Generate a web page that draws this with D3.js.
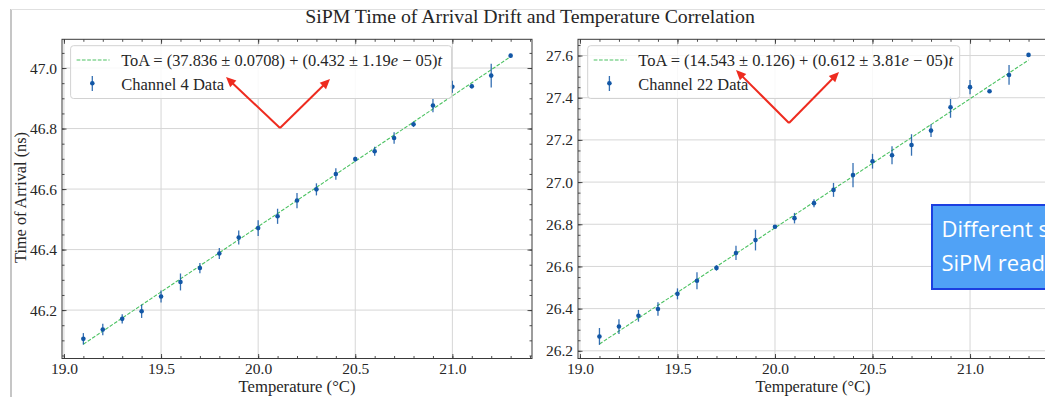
<!DOCTYPE html>
<html><head><meta charset="utf-8">
<script src="https://cdn.jsdelivr.net/npm/d3@7"></script>
<style>
body{margin:0;background:#fff;}
svg{display:block;}
text{font-family:"Liberation Serif","Times New Roman",serif;fill:#262626;}
</style>
</head><body>
<svg id="c" width="1045" height="397"></svg>
<script>
// ---------------- data ----------------
const title = "SiPM Time of Arrival Drift and Temperature Correlation";
const xAxisLabel = "Temperature (°C)";
const yAxisLabel = "Time of Arrival (ns)";
const temperatures = [19.1,19.2,19.3,19.4,19.5,19.6,19.7,19.8,19.9,20.0,20.1,20.2,20.3,20.4,20.5,20.6,20.7,20.8,20.9,21.0,21.1,21.2,21.3];
const ch4ToA  = [46.105,46.136,46.171,46.196,46.245,46.293,46.339,46.387,46.440,46.471,46.510,46.562,46.599,46.650,46.699,46.725,46.769,46.814,46.876,46.938,46.940,46.975,47.041];
const ch4Err  = [0.019,0.019,0.015,0.022,0.020,0.028,0.017,0.018,0.023,0.026,0.025,0.025,0.020,0.019,0.008,0.015,0.019,0.009,0.022,0.020,0.008,0.039,0.006];
const ch22ToA = [26.268,26.315,26.366,26.398,26.470,26.532,26.593,26.664,26.725,26.788,26.829,26.900,26.963,27.033,27.099,27.127,27.176,27.244,27.355,27.450,27.431,27.508,27.603];
const ch22Err = [0.040,0.035,0.028,0.032,0.026,0.040,0.013,0.034,0.049,0.008,0.025,0.019,0.033,0.057,0.035,0.043,0.051,0.030,0.050,0.034,0.006,0.047,0.005];
const seriesNames   = ["Channel 4 Data","Channel 22 Data"];
const fitIntercepts = [37.836, 14.543];
const fitInterceptErrs = ["0.0708","0.126"];
const fitSlopes     = [0.432, 0.612];
const fitSlopeErrMantissa = ["1.19","3.81"];
const fitSlopeErrExp = ["05","05"];
const xTicks = [19.0,19.5,20.0,20.5,21.0];
const xTickLabels = ["19.0","19.5","20.0","20.5","21.0"];
const ch4YTicks = [46.2,46.4,46.6,46.8,47.0];
const ch4YTickLabels = ["46.2","46.4","46.6","46.8","47.0"];
const ch22YTicks = [26.2,26.4,26.6,26.8,27.0,27.2,27.4,27.6];
const ch22YTickLabels = ["26.2","26.4","26.6","26.8","27.0","27.2","27.4","27.6"];
const calloutLines = ["Different slopes for each","SiPM readout channel"];

// ---------------- layout / style ----------------
const svg = d3.select("#c");
const BLUE = "#1257a6", GREEN = "#4cc262", RED = "#ee2b1f", GRID = "#d6d6d6", SPINE = "#3a3a3a";

// slide frame
svg.append("line").attr("x1",11).attr("x2",11).attr("y1",9).attr("y2",397).attr("stroke","#c6c6c6").attr("stroke-width",2);
svg.append("line").attr("x1",11).attr("x2",1045).attr("y1",9.5).attr("y2",9.5).attr("stroke","#e0e0e0").attr("stroke-width",1);

function fitFont(sel, target, base){
  sel.style("font-size", base+"px");
  const w = sel.node().getComputedTextLength();
  sel.style("font-size", (base*target/w).toFixed(2)+"px");
}

const t = svg.append("text").attr("x",530).attr("y",23).attr("text-anchor","middle").text(title);
fitFont(t, 450, 18);

const panels = [
  {x0:62, x1:532, yTop:39.3, yBot:358.5, yDomain:[46.04,47.095], yTicks:ch4YTicks, yLabels:ch4YTickLabels,
   vals:ch4ToA, errs:ch4Err, k:0, legend:{x:70.6, w:381, eqW:321, nameW:103}, xLabelC:297, xLabelW:117, yLabel:true,
   arrow:{v:[280,128], a:[226,77], b:[330,79]}},
  {x0:578, x1:1050, yTop:39.3, yBot:358.5, yDomain:[26.1635,27.677], yTicks:ch22YTicks, yLabels:ch22YTickLabels,
   vals:ch22ToA, errs:ch22Err, k:1, legend:{x:587.7, w:372, eqW:315, nameW:110}, xLabelC:813, xLabelW:115, yLabel:false,
   arrow:{v:[789,123], a:[736,70], b:[839,72]}}
];

const xDomain = [18.99, 21.41];

panels.forEach(p => {
  const g = svg.append("g");
  const x = d3.scaleLinear().domain(xDomain).range([p.x0, p.x1]);
  const y = d3.scaleLinear().domain(p.yDomain).range([p.yBot, p.yTop]);
  const clipId = "clip"+p.k;
  svg.append("clipPath").attr("id",clipId).append("rect")
     .attr("x",p.x0).attr("y",p.yTop).attr("width",p.x1-p.x0).attr("height",p.yBot-p.yTop);

  // grid
  g.append("g").selectAll("line").data(xTicks).join("line")
    .attr("x1",d=>x(d)).attr("x2",d=>x(d)).attr("y1",p.yTop).attr("y2",p.yBot)
    .attr("stroke",GRID).attr("stroke-width",1);
  g.append("g").selectAll("line").data(p.yTicks).join("line")
    .attr("y1",d=>y(d)).attr("y2",d=>y(d)).attr("x1",p.x0).attr("x2",p.x1)
    .attr("stroke",GRID).attr("stroke-width",1);

  // fit line
  const ext = d3.extent(temperatures);
  const fitPts = ext.map(tt => [tt, fitIntercepts[p.k] + fitSlopes[p.k]*tt]);
  g.append("path").attr("clip-path",`url(#${clipId})`)
    .attr("d", d3.line().x(d=>x(d[0])).y(d=>y(d[1]))(fitPts))
    .attr("fill","none").attr("stroke",GREEN).attr("stroke-width",1.1).attr("stroke-dasharray","3.7,1.6");

  // error bars + points
  const pts = temperatures.map((tt,i)=>({t:tt, v:p.vals[i], e:p.errs[i]}));
  g.append("g").selectAll("line").data(pts).join("line")
    .attr("x1",d=>x(d.t)).attr("x2",d=>x(d.t)).attr("y1",d=>y(d.v-d.e)).attr("y2",d=>y(d.v+d.e))
    .attr("stroke",BLUE).attr("stroke-width",1.3).attr("stroke-opacity",0.85);
  g.append("g").selectAll("circle").data(pts).join("circle")
    .attr("cx",d=>x(d.t)).attr("cy",d=>y(d.v)).attr("r",2.3).attr("fill",BLUE);

  // axes (inward ticks on all sides)
  const minorX = d3.range(190, 215).map(v=>v/10).filter(v=>v>=xDomain[0]&&v<=xDomain[1]);
  const minorY = d3.range(Math.ceil(p.yDomain[0]*20), Math.floor(p.yDomain[1]*20)+1).map(v=>v/20);
  function styleAxis(a){ a.select(".domain").remove(); a.selectAll("line").attr("stroke",SPINE).attr("stroke-width",0.9);
    a.selectAll("text").style("font-size","15.5px").style("font-family","Liberation Serif, serif").attr("fill","#262626"); }
  const ab = g.append("g").attr("transform",`translate(0,${p.yBot})`)
    .call(d3.axisBottom(x).tickValues(xTicks).tickFormat((d,i)=>xTickLabels[i]).tickSize(-4.5).tickPadding(4.5)); styleAxis(ab);
  const abm = g.append("g").attr("transform",`translate(0,${p.yBot})`)
    .call(d3.axisBottom(x).tickValues(minorX).tickFormat("").tickSize(-2.5)); styleAxis(abm);
  const at = g.append("g").attr("transform",`translate(0,${p.yTop})`)
    .call(d3.axisTop(x).tickValues(xTicks).tickFormat("").tickSize(-4.5)); styleAxis(at);
  const atm = g.append("g").attr("transform",`translate(0,${p.yTop})`)
    .call(d3.axisTop(x).tickValues(minorX).tickFormat("").tickSize(-2.5)); styleAxis(atm);
  const al = g.append("g").attr("transform",`translate(${p.x0},0)`)
    .call(d3.axisLeft(y).tickValues(p.yTicks).tickFormat((d,i)=>p.yLabels[i]).tickSize(-4.5).tickPadding(5)); styleAxis(al);
  const alm = g.append("g").attr("transform",`translate(${p.x0},0)`)
    .call(d3.axisLeft(y).tickValues(minorY).tickFormat("").tickSize(-2.5)); styleAxis(alm);
  const ar = g.append("g").attr("transform",`translate(${p.x1},0)`)
    .call(d3.axisRight(y).tickValues(p.yTicks).tickFormat("").tickSize(-4.5)); styleAxis(ar);
  const arm = g.append("g").attr("transform",`translate(${p.x1},0)`)
    .call(d3.axisRight(y).tickValues(minorY).tickFormat("").tickSize(-2.5)); styleAxis(arm);
  g.append("rect").attr("x",p.x0).attr("y",p.yTop).attr("width",p.x1-p.x0).attr("height",p.yBot-p.yTop)
    .attr("fill","none").attr("stroke",SPINE).attr("stroke-width",1);

  // axis labels
  const xl = g.append("text").attr("x",p.xLabelC).attr("y",391.5).attr("text-anchor","middle").text(xAxisLabel);
  fitFont(xl, p.xLabelW, 15);
  if (p.yLabel){
    const yl = g.append("text").attr("transform","translate(25.5,197.5) rotate(-90)").attr("text-anchor","middle").text(yAxisLabel);
    fitFont(yl, 131, 15);
  }

  // legend
  const L = p.legend;
  const lg = g.append("g");
  lg.append("rect").attr("x",L.x).attr("y",45.7).attr("width",L.w).attr("height",52.8).attr("rx",3)
    .attr("fill","#fff").attr("fill-opacity",0.85).attr("stroke","#d2d2d2").attr("stroke-width",1);
  lg.append("line").attr("x1",L.x+6).attr("x2",L.x+39).attr("y1",60).attr("y2",60)
    .attr("stroke",GREEN).attr("stroke-width",1.1).attr("stroke-dasharray","3.7,1.6");
  lg.append("line").attr("x1",L.x+21.7).attr("x2",L.x+21.7).attr("y1",76).attr("y2",91)
    .attr("stroke",BLUE).attr("stroke-width",1.3).attr("stroke-opacity",0.85);
  lg.append("circle").attr("cx",L.x+21.7).attr("cy",83.3).attr("r",2.3).attr("fill",BLUE);
  const eq = lg.append("text").attr("x",L.x+50.6).attr("y",66);
  eq.append("tspan").text(`ToA = (${fitIntercepts[p.k].toFixed(3)} ± ${fitInterceptErrs[p.k]}) + (${fitSlopes[p.k].toFixed(3)} ± ${fitSlopeErrMantissa[p.k]}`);
  eq.append("tspan").style("font-style","italic").text("e");
  eq.append("tspan").text(` − ${fitSlopeErrExp[p.k]})`);
  eq.append("tspan").style("font-style","italic").text("t");
  fitFont(eq, L.eqW, 16);
  const nm = lg.append("text").attr("x",L.x+50.6).attr("y",90).text(seriesNames[p.k]);
  fitFont(nm, L.nameW, 16);

  // red arrows (slide annotation overlay)
  const A = p.arrow;
  [A.a, A.b].forEach(tip => {
    const dx = tip[0]-A.v[0], dy = tip[1]-A.v[1], len = Math.hypot(dx,dy);
    const ux = dx/len, uy = dy/len, hl = 10, hw = 4.5;
    const bx = tip[0]-ux*hl, by = tip[1]-uy*hl;
    svg.append("line").attr("x1",A.v[0]).attr("y1",A.v[1]).attr("x2",bx+ux*1).attr("y2",by+uy*1)
      .attr("stroke",RED).attr("stroke-width",2);
    svg.append("path").attr("d",`M${tip[0]},${tip[1]}L${bx-uy*hw},${by+ux*hw}L${bx+uy*hw},${by-ux*hw}Z`).attr("fill",RED);
  });
});

// callout box (slide overlay, runs past the right edge as in the reference)
svg.append("rect").attr("x",932).attr("y",205).attr("width",140).attr("height",84)
  .attr("fill","#50a2f6").attr("stroke","#1c3fe0").attr("stroke-width",2);
svg.selectAll("text.callout").data(calloutLines).join("text").attr("class","callout")
  .attr("x",941.5).attr("y",(d,i)=>237+i*33.5)
  .style("font-family","'Open Sans','Noto Sans',sans-serif").style("font-size","22px").style("fill","#fff")
  .text(d=>d);
</script>
</body></html>
